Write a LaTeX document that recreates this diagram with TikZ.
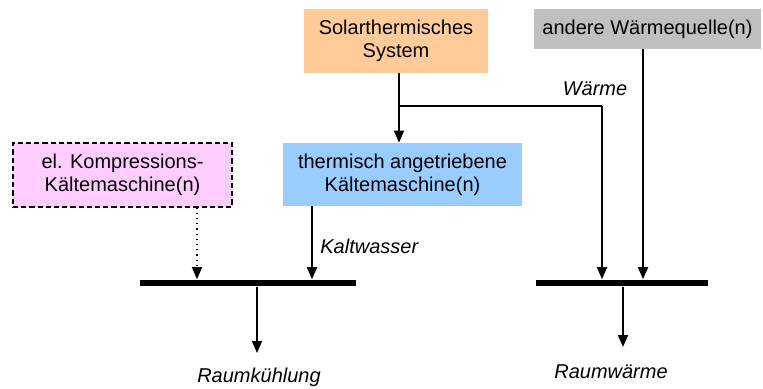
\documentclass[tikz,border=0pt]{standalone}
\usepackage{fontspec}
\setmainfont{Liberation Sans}
\usetikzlibrary{arrows.meta}
\definecolor{solarfill}{HTML}{FFCC99}
\definecolor{coolfill}{HTML}{99CCFF}
\definecolor{elfill}{HTML}{FFCCFF}
\definecolor{heatfill}{HTML}{C0C0C0}
\tikzset{
  box/.style={rectangle, align=center, inner sep=0pt, font=\fontsize{10pt}{11.5pt}\selectfont},
  bus/.style={rectangle, fill=black, inner sep=0pt, minimum height=3.4pt},
  flow/.style={line width=0.9pt, -{Triangle[width=5pt,length=6pt]}},
  lbl/.style={font=\fontsize{10pt}{11.5pt}\selectfont\itshape, inner sep=0pt},
}
\begin{document}
\begin{tikzpicture}[x=0.5pt, y=-0.5pt]
  \useasboundingbox (0,0) rectangle (763,388);

  % source boxes
  \node[box, fill=solarfill, minimum width=92pt, minimum height=32pt] (solar) at (396,41)
    {Solarthermisches\\System};
  \node[box, fill=heatfill, minimum width=113.5pt, minimum height=20pt] (other) at (647.5,29)
    {andere Wärmequelle(n)};
  \node[box, fill=coolfill, minimum width=119.5pt, minimum height=31.5pt] (therm) at (402.5,174.5)
    {thermisch angetriebene\\Kältemaschine(n)};
  \node[box, fill=elfill, draw, line width=0.65pt, dash pattern=on 2.6pt off 1.5pt,
        minimum width=109.5pt, minimum height=32pt] (elkm) at (122.5,175)
    {el. Kompressions-\\Kältemaschine(n)};

  % collector bars
  \node[bus, minimum width=108pt] (kbar) at (248,283) {};
  \node[bus, minimum width=86pt] (wbar) at (622,283) {};

  % helper coordinates for the vertical lines
  \coordinate (branch) at (399,106);
  \coordinate (xwarm) at (602,0);
  \coordinate (xother) at (643,0);
  \coordinate (xcold) at (312,0);
  \coordinate (xel) at (197,0);
  \coordinate (xkout) at (257,0);
  \coordinate (xwout) at (623,0);
  \coordinate (kend) at (257,353);
  \coordinate (wend) at (623,347);

  % heat paths
  \draw[flow] (solar.south -| branch) -- (therm.north -| branch);
  \draw[line width=0.6pt] (branch) -- (branch -| xwarm);
  \draw[flow] (branch -| xwarm) -- (wbar.north -| xwarm);
  \draw[flow] (other.south -| xother) -- (wbar.north -| xother);

  % cold paths
  \draw[flow] (therm.south -| xcold) -- (kbar.north -| xcold);
  \draw[line width=0.6pt, dotted] (elkm.south -| xel) -- ([yshift=3pt]kbar.north -| xel);
  \draw[flow, line width=0.6pt] ([yshift=3.5pt]kbar.north -| xel) -- (kbar.north -| xel);

  % outputs
  \draw[flow] (kbar.south -| xkout) -- (kend);
  \draw[flow] (wbar.south -| xwout) -- (wend);

  % labels
  \node[lbl] (lwarm) at (595,89) {Wärme};
  \node[lbl, anchor=west] (lcold) at (320,246) {Kaltwasser};
  \node[lbl] (lkuehl) at (259,377) {Raumkühlung};
  \node[lbl] (lraum) at (611,372) {Raumwärme};
\end{tikzpicture}
\end{document}
